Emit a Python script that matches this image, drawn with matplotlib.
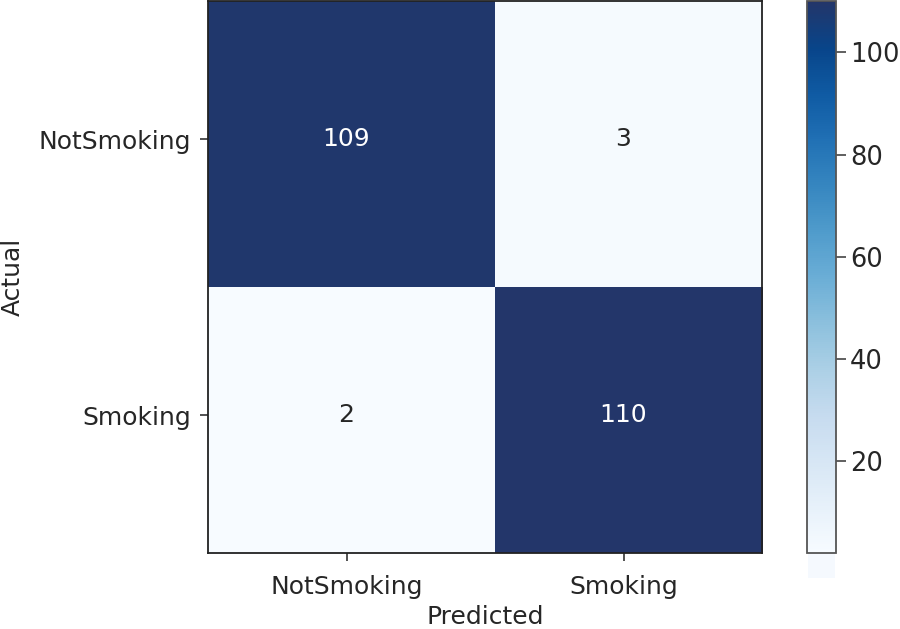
import numpy as np
import matplotlib
matplotlib.use("Agg")
import matplotlib.pyplot as plt
from matplotlib.colors import LinearSegmentedColormap
from matplotlib.patches import Rectangle

labels = ["NotSmoking", "Smoking"]
cm = np.array([[109, 3],
               [2, 110]])

plt.rcParams['font.family'] = ['DejaVu Sans']
txt = '#262626'

# Blues, but ending in a greyish navy like the reference
blues = plt.get_cmap('Blues')
cols = [blues(v) for v in np.linspace(0, 0.92, 12)] + ['#23366a']
cmap = LinearSegmentedColormap.from_list('navyblues', cols)

fig = plt.figure(figsize=(9, 6.29), dpi=100)
ax = fig.add_axes([0.2311, 0.1208, 0.6156, 0.877])
cax = fig.add_axes([0.8967, 0.1208, 0.0322, 0.877])

# image is drawn slightly stretched in the reference, cells sit a bit off the ticks
s = 1.038
im = ax.imshow(cm, cmap=cmap, vmin=cm.min(), vmax=cm.max(), aspect='auto',
               extent=(-0.5, -0.5 + 2 * s, -0.5 + 2 * s, -0.5), interpolation='nearest')
ax.set_xlim(-0.5, 1.5)
ax.set_ylim(1.5, -0.5)

thresh = (cm.max() + cm.min()) / 2
for i in range(cm.shape[0]):
    for j in range(cm.shape[1]):
        ax.text(j, i, str(cm[i, j]), ha='center', va='center', fontsize=18,
                color='white' if cm[i, j] > thresh else txt)

ax.set_xticks(range(len(labels)))
ax.set_xticklabels(labels)
ax.set_yticks(range(len(labels)))
ax.set_yticklabels(labels)
ax.tick_params(axis='both', labelsize=18, colors='#333333', labelcolor=txt,
               length=6, width=1.2)
ax.tick_params(axis='x', pad=9.5)
ax.tick_params(axis='y', pad=6)
ax.set_xlabel("Predicted", fontsize=18, color=txt, labelpad=5)
ax.set_ylabel("Actual", fontsize=18, color=txt, labelpad=10)
for sp in ax.spines.values():
    sp.set_color('#222222')
    sp.set_linewidth(1.3)

cb = fig.colorbar(im, cax=cax)
cb.set_ticks([20, 40, 60, 80, 100])
cb.ax.tick_params(labelsize=18.5, labelcolor=txt, colors='#444444', length=7, width=1.2, pad=3)
cb.outline.set_edgecolor('#555555')
cb.outline.set_linewidth(1.3)
# faint strip of the colorbar image below its frame, as in the reference
cax.add_patch(Rectangle((0.03, -0.046), 0.94, 0.046, transform=cax.transAxes,
                        color='#f5f9fe', clip_on=False, lw=0))

fig.savefig("out.png", dpi=100)
